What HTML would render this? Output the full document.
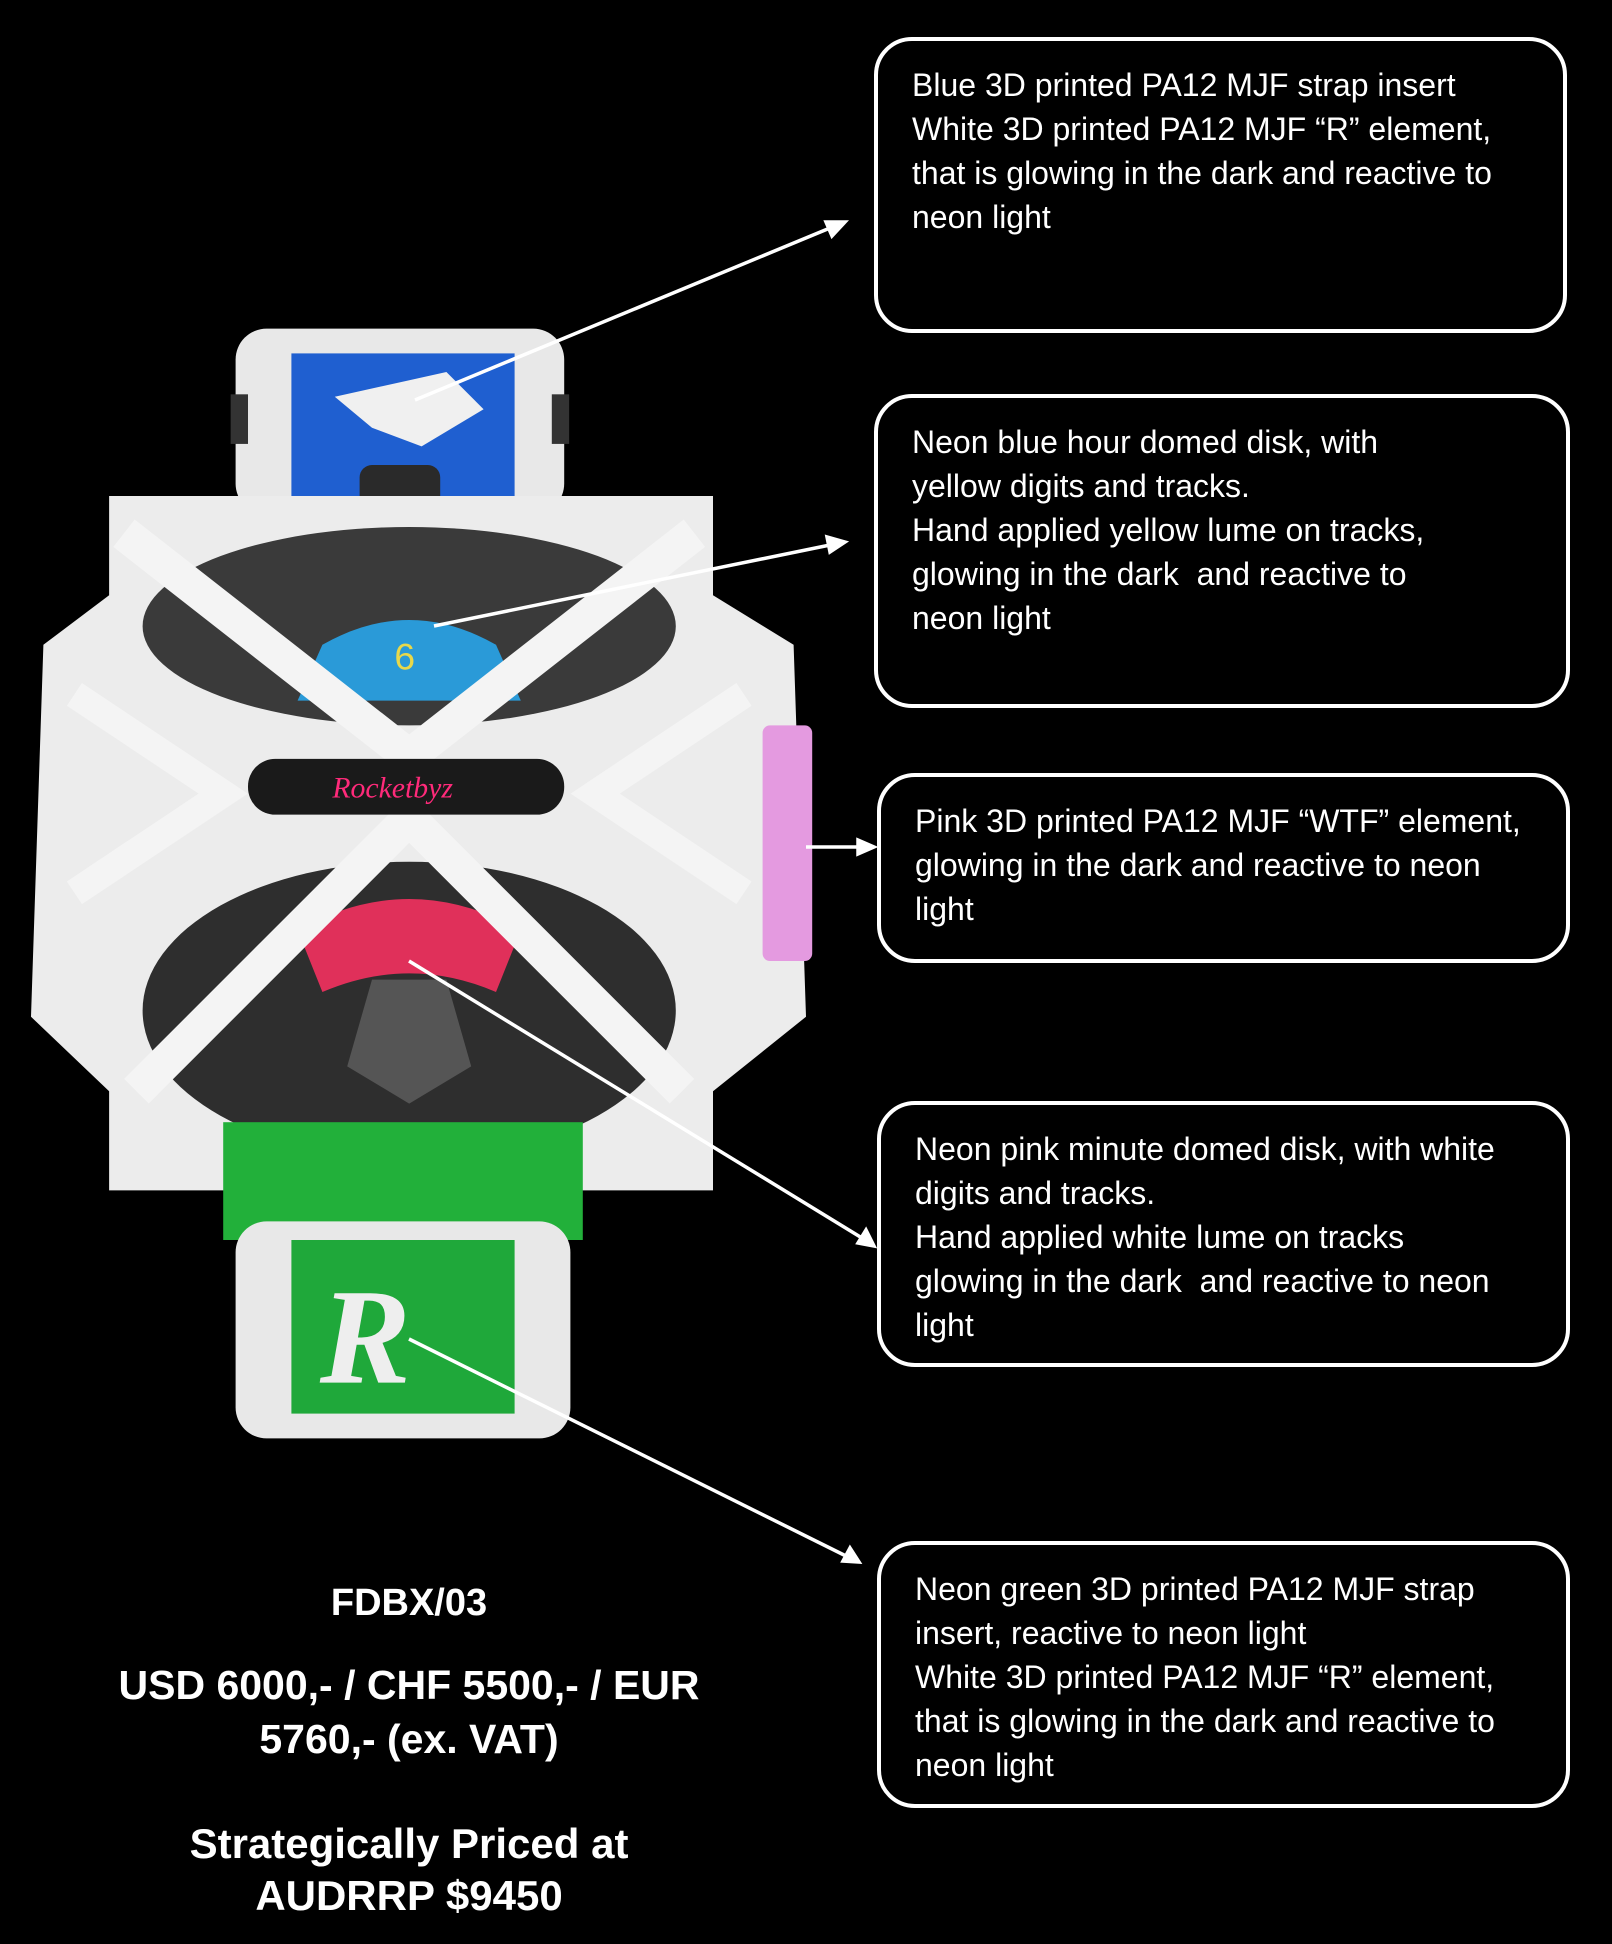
<!DOCTYPE html>
<html><head><meta charset="utf-8"><style>
html,body{margin:0;padding:0;background:#000;}
body{width:1612px;height:1944px;position:relative;overflow:hidden;font-family:"Liberation Sans",sans-serif;color:#fff;}
.box{position:absolute;border:4px solid #fff;border-radius:38px;box-sizing:border-box;padding:22px 10px 0 34px;font-size:32px;line-height:44px;white-space:nowrap;}
.c{position:absolute;left:0;width:818px;text-align:center;font-weight:bold;}
svg{position:absolute;left:0;top:0;}
</style></head><body>
<svg width="1612" height="1944" viewBox="0 0 1612 1944">
<g transform="scale(1.24)">
 <rect x="190" y="265" width="265" height="150" rx="25" fill="#e8e8e8"/>
 <rect x="235" y="285" width="180" height="120" fill="#1f5fd0"/>
 <path d="M270 320 L360 300 L390 330 L340 360 L300 345 Z" fill="#f0f0f0"/>
 <rect x="186" y="318" width="14" height="40" fill="#333"/>
 <rect x="445" y="318" width="14" height="40" fill="#333"/>
 <rect x="290" y="375" width="65" height="45" rx="10" fill="#2a2a2a"/>
 <path d="M88 400 L575 400 L575 480 L640 520 L650 820 L575 880 L575 960 L88 960 L88 880 L25 820 L35 520 L88 480 Z" fill="#ececec"/>
 <ellipse cx="330" cy="505" rx="215" ry="80" fill="#3a3a3a"/>
 <path d="M260 520 Q330 480 400 520 L420 565 L240 565 Z" fill="#2a9ad8"/>
 <text x="318" y="540" font-size="30" fill="#e8d84a" font-family="Liberation Sans">6</text>
 <ellipse cx="330" cy="815" rx="215" ry="120" fill="#2e2e2e"/>
 <path d="M240 750 Q330 700 420 750 L400 800 Q330 770 260 800 Z" fill="#e0305a"/>
 <path d="M300 790 L360 790 L380 860 L330 890 L280 860 Z" fill="#555"/>
 <path d="M100 430 L330 610 L560 430" stroke="#f4f4f4" stroke-width="28" fill="none"/>
 <path d="M110 880 L330 660 L550 880" stroke="#f4f4f4" stroke-width="28" fill="none"/>
 <path d="M60 560 L180 640 L60 720" stroke="#f4f4f4" stroke-width="22" fill="none"/>
 <path d="M600 560 L480 640 L600 720" stroke="#f4f4f4" stroke-width="22" fill="none"/>
 <rect x="200" y="612" width="255" height="45" rx="22" fill="#1a1a1a"/>
 <text x="268" y="643" font-size="24" fill="#ff2a7a" font-style="italic" font-family="Liberation Serif">Rocketbyz</text>
 <rect x="615" y="585" width="40" height="190" rx="6" fill="#e49ae0"/>
 <rect x="180" y="905" width="290" height="95" fill="#22b03a"/>
 <rect x="190" y="985" width="270" height="175" rx="25" fill="#e8e8e8"/>
 <rect x="235" y="1000" width="180" height="140" fill="#1fa83a"/>
 <text x="258" y="1115" font-size="110" font-style="italic" font-weight="bold" fill="#eeeeee" font-family="Liberation Serif">R</text>
</g>
<g stroke="#fff" stroke-width="3.5" fill="#fff">
 <line x1="415" y1="400" x2="830" y2="228"/><polygon points="845,222 826,222 832,236"/>
 <line x1="434" y1="626" x2="830" y2="545"/><polygon points="845,542 827,537 830,552"/>
 <line x1="806" y1="847" x2="860" y2="847"/><polygon points="874,847 858,840 858,854"/>
 <line x1="409" y1="961" x2="862" y2="1238"/><polygon points="874,1246 866,1230 858,1243"/>
 <line x1="409" y1="1339" x2="846" y2="1556"/><polygon points="859,1562 850,1548 843,1561"/>
</g>
</svg>
<div class="box" style="left:874px;top:37px;width:693px;height:296px;">Blue 3D printed PA12 MJF strap insert<br>White 3D printed PA12 MJF “R” element,<br>that is glowing in the dark and reactive to<br>neon light</div>
<div class="box" style="left:874px;top:394px;width:696px;height:314px;">Neon blue hour domed disk, with<br>yellow digits and tracks.<br>Hand applied yellow lume on tracks,<br>glowing in the dark&nbsp; and reactive to<br>neon light</div>
<div class="box" style="left:877px;top:773px;width:693px;height:190px;">Pink 3D printed PA12 MJF “WTF” element,<br>glowing in the dark and reactive to neon<br>light</div>
<div class="box" style="left:877px;top:1101px;width:693px;height:266px;">Neon pink minute domed disk, with white<br>digits and tracks.<br>Hand applied white lume on tracks<br>glowing in the dark&nbsp; and reactive to neon<br>light</div>
<div class="box" style="left:877px;top:1541px;width:693px;height:267px;">Neon green 3D printed PA12 MJF strap<br>insert, reactive to neon light<br>White 3D printed PA12 MJF “R” element,<br>that is glowing in the dark and reactive to<br>neon light</div>
<div class="c" style="top:1582px;font-size:38px;">FDBX/03</div>
<div class="c" style="top:1658px;font-size:41px;line-height:54px;">USD 6000,- / CHF 5500,- / EUR<br>5760,- (ex. VAT)</div>
<div class="c" style="top:1818px;font-size:42px;line-height:52px;">Strategically Priced at<br>AUDRRP $9450</div>
</body></html>
